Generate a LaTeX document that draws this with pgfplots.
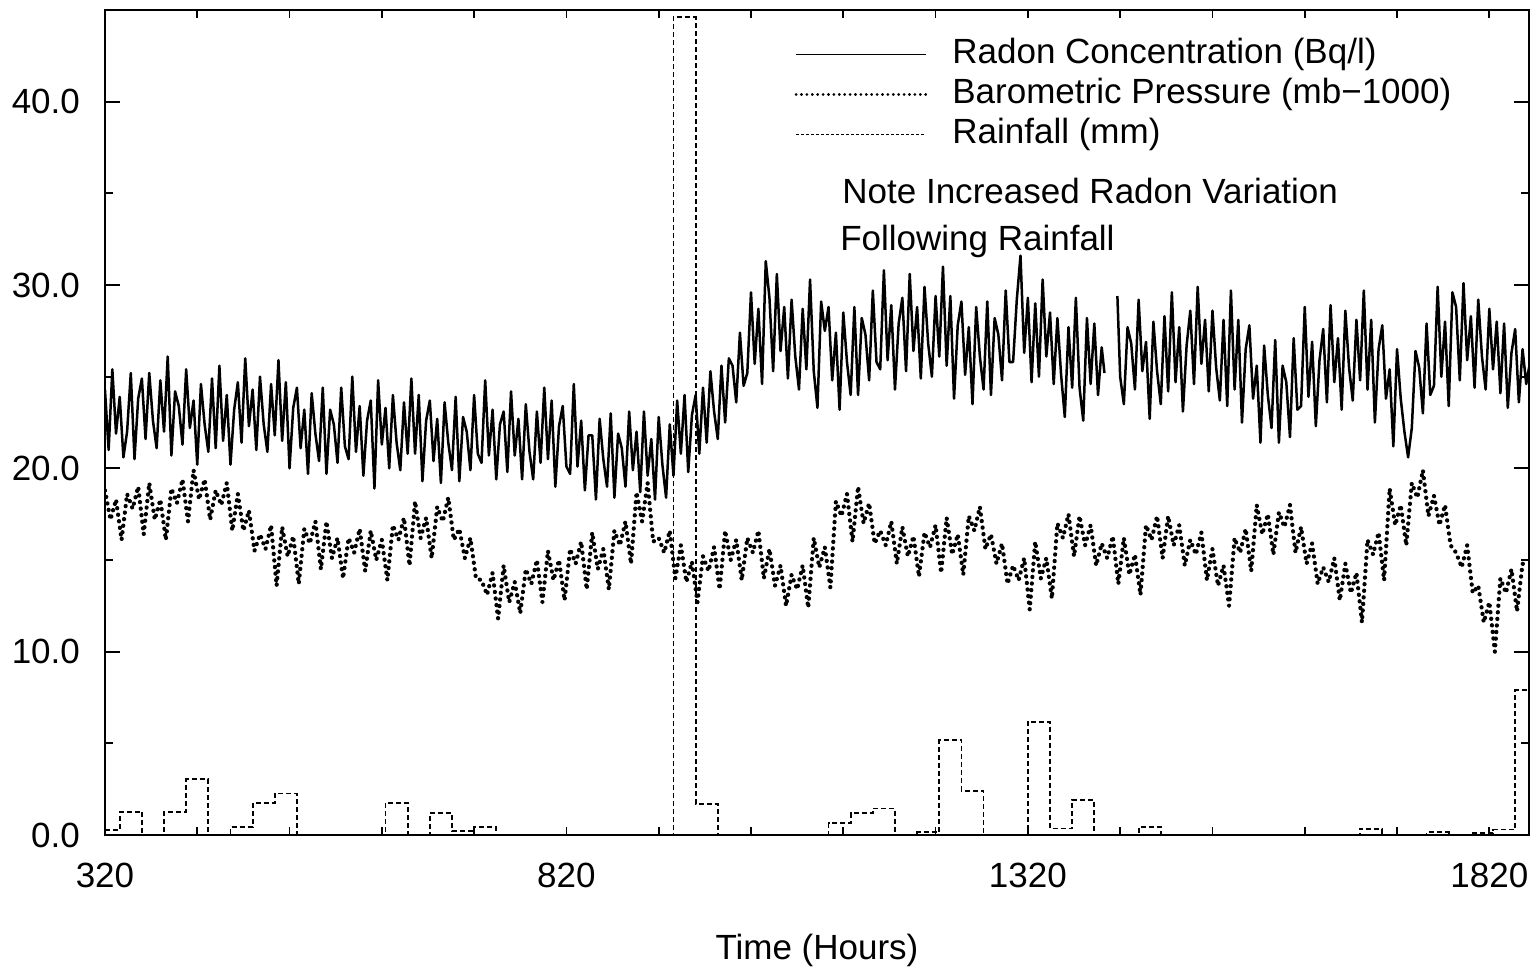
\documentclass[border=0pt]{standalone}
\usepackage{fontspec}
\setmainfont{Liberation Sans}
\usepackage{pgfplots}
\pgfplotsset{compat=1.18}
\begin{document}
\fontsize{17.5}{21}\selectfont
\begin{tikzpicture}
\begin{axis}[
  width=712pt, height=412.5pt, scale only axis,
  xmin=320, xmax=1863, ymin=0, ymax=45,
  font=\fontsize{17.5}{21}\selectfont,
  axis line style={line width=1pt},
  every tick/.style={black, line width=0.9pt},
  major tick length=7.5pt, minor tick length=4pt,
  xtick={320,820,1320,1820},
  minor xtick={320,420,...,1820},
  major x tick style={draw=none},
  ytick={0,10,20,30,40},
  minor ytick={5,15,25,35},
  yticklabel style={xshift=-6.5pt, /pgf/number format/fixed, /pgf/number format/fixed zerofill, /pgf/number format/precision=1, /pgf/number format/assume math mode=true},
  xticklabel style={yshift=-8pt, /pgf/number format/set thousands separator={}, /pgf/number format/assume math mode=true},
  xlabel={Time (Hours)},
  xlabel style={at={(axis description cs:0.5,-0.1394)}, anchor=center},
  legend style={at={(rel axis cs:0.4840,0.9707)}, anchor=north west, draw=none, fill=none,
    inner sep=0pt, row sep=0pt,
    nodes={text height=13pt, text depth=4pt, inner ysep=1.5pt, inner xsep=6pt}},
  legend cell align=left,
  legend image code/.code={\draw[#1] (0pt,0pt) -- (65pt,0pt); \path (71.5pt,0pt);},
  unbounded coords=jump,
]
\addlegendimage{black, line width=0.8pt}
\addlegendentry{Radon Concentration (Bq/l)}
\addlegendimage{black, line width=1.4pt, line cap=round, dash pattern=on 0.1pt off 2.6pt}
\addlegendentry{Barometric Pressure (mb−1000)}
\addlegendimage{black, line width=0.7pt, dash pattern=on 1.5pt off 1pt}
\addlegendentry{Rainfall (mm)}

% Radon concentration
\addplot[forget plot, black, line width=1.25pt, line join=round] coordinates {
(320,24.3)(324,21.0)(328,25.4)(332,21.9)(336,23.9)(340,20.6)
(344,22.0)(348,25.2)(352,20.5)(356,23.8)(360,24.9)(364,21.6)
(368,25.2)(372,22.6)(376,21.1)(380,24.8)(384,22.0)(388,26.1)
(392,20.7)(396,24.2)(400,23.4)(404,21.3)(408,25.4)(412,22.2)
(416,23.7)(420,20.2)(424,24.6)(428,22.4)(432,20.9)(436,24.9)
(440,21.1)(444,25.6)(448,21.5)(452,24.0)(456,20.2)(460,23.2)
(464,24.7)(468,21.4)(472,26.0)(476,22.3)(480,24.3)(484,21.0)
(488,25.0)(492,22.4)(496,20.9)(500,24.6)(504,21.8)(508,25.9)
(512,21.5)(516,24.7)(520,20.0)(524,23.3)(528,24.4)(532,21.1)
(536,23.2)(540,19.7)(544,24.1)(548,21.9)(552,20.4)(556,24.4)
(560,19.7)(564,23.2)(568,22.4)(572,20.3)(576,24.4)(580,21.2)
(584,20.5)(588,25.0)(592,20.9)(596,23.4)(600,19.6)(604,22.6)
(608,23.7)(612,18.9)(616,24.8)(620,21.3)(624,23.3)(628,20.0)
(632,24.0)(636,21.4)(640,19.9)(644,23.6)(648,20.8)(652,24.9)
(656,20.8)(660,24.0)(664,19.3)(668,22.6)(672,23.7)(676,20.4)
(680,22.7)(684,19.2)(688,23.6)(692,21.4)(696,19.9)(700,23.9)
(704,19.3)(708,22.8)(712,22.0)(716,19.9)(720,24.0)(724,20.8)
(728,20.3)(732,24.8)(736,20.7)(740,23.2)(744,19.4)(748,22.4)
(752,23.1)(756,19.8)(760,24.2)(764,20.7)(768,22.7)(772,19.4)
(776,23.5)(780,20.9)(784,19.4)(788,23.1)(792,20.3)(796,24.4)
(800,20.5)(804,23.7)(808,19.0)(812,22.3)(816,23.4)(820,20.1)
(824,19.7)(828,24.6)(832,20.1)(836,22.6)(840,18.8)(844,21.8)
(848,21.8)(852,18.3)(856,22.7)(860,20.5)(864,19.0)(868,23.0)
(872,18.4)(876,21.9)(880,21.1)(884,19.0)(888,23.1)(892,19.9)
(896,22.0)(900,18.7)(904,23.1)(908,19.6)(912,21.6)(916,18.3)
(920,22.8)(924,20.2)(928,18.4)(932,22.4)(936,19.6)(940,23.7)
(944,20.8)(948,24.0)(952,19.8)(956,22.9)(960,24.0)(964,20.8)
(968,24.4)(972,21.4)(976,25.3)(980,23.1)(984,21.6)(988,25.6)
(992,22.5)(996,26.0)(1000,25.6)(1004,23.6)(1008,27.4)(1012,24.5)
(1016,25.2)(1020,29.6)(1024,25.7)(1028,28.7)(1032,24.6)(1036,31.3)
(1040,29.3)(1044,25.3)(1048,30.6)(1052,26.4)(1056,28.8)(1060,24.9)
(1064,29.2)(1068,26.1)(1072,24.3)(1076,28.7)(1080,25.4)(1084,30.3)
(1088,25.3)(1092,23.3)(1096,29.1)(1100,27.5)(1104,28.8)(1108,24.8)
(1112,27.4)(1116,23.2)(1120,28.5)(1124,25.8)(1128,24.0)(1132,28.8)
(1136,24.0)(1140,28.2)(1144,27.3)(1148,24.8)(1152,29.7)(1156,25.8)
(1160,25.4)(1164,30.8)(1168,25.9)(1172,28.9)(1176,24.3)(1180,27.9)
(1184,29.3)(1188,25.3)(1192,30.6)(1196,26.4)(1200,28.8)(1204,24.9)
(1208,29.9)(1212,26.8)(1216,25.0)(1220,29.4)(1224,26.1)(1228,31.0)
(1232,25.6)(1236,29.4)(1240,23.8)(1244,27.8)(1248,29.1)(1252,25.1)
(1256,27.7)(1260,23.5)(1264,28.8)(1268,26.1)(1272,24.3)(1276,29.1)
(1280,24.0)(1284,28.2)(1288,27.3)(1292,24.8)(1296,29.7)(1300,25.8)
(1304,25.8)(1308,29.2)(1312,31.6)(1316,26.3)(1320,29.3)(1324,24.7)
(1328,29.0)(1332,25.0)(1336,30.3)(1340,26.1)(1344,28.5)(1348,24.6)
(1352,28.2)(1356,25.1)(1360,22.8)(1364,27.7)(1368,24.4)(1372,29.3)
(1376,24.4)(1380,22.6)(1384,28.2)(1388,24.6)(1392,27.9)(1396,24.0)(1400,26.6)(1403,25.2)
(1410,nan)
(1417,29.4)(1420,25.0)
(1424,23.5)(1428,27.7)(1432,26.8)(1436,24.3)(1440,29.2)(1444,25.3)
(1448,26.9)(1452,22.7)(1456,28.0)(1460,25.3)(1464,23.5)(1468,28.3)
(1472,24.2)(1476,29.6)(1480,24.7)(1484,27.7)(1488,23.1)(1492,26.7)
(1496,28.6)(1500,24.6)(1504,29.9)(1508,25.7)(1512,28.1)(1516,24.2)
(1520,28.6)(1524,25.5)(1528,23.7)(1532,28.1)(1536,23.4)(1540,29.7)
(1544,24.3)(1548,28.1)(1552,22.5)(1556,26.5)(1560,27.8)(1564,23.8)
(1568,25.6)(1572,21.4)(1576,26.7)(1580,24.0)(1584,22.2)(1588,27.0)
(1592,21.4)(1596,25.6)(1600,24.7)(1604,21.7)(1608,27.1)(1612,23.2)
(1616,23.4)(1620,28.8)(1624,23.9)(1628,26.9)(1632,22.3)(1636,25.9)
(1640,27.6)(1644,23.6)(1648,28.9)(1652,24.7)(1656,27.1)(1660,23.2)
(1664,28.6)(1668,25.5)(1672,23.7)(1676,28.1)(1680,24.8)(1684,29.7)
(1688,24.3)(1692,28.1)(1696,22.5)(1700,26.5)(1704,27.8)(1708,23.8)
(1712,25.4)(1716,21.2)(1720,26.5)(1724,23.8)(1728,22.0)(1732,20.6)
(1736,22.2)(1740,26.4)(1744,25.5)(1748,23.0)(1752,27.9)(1756,24.0)
(1760,24.5)(1764,29.9)(1768,25.0)(1772,28.0)(1776,23.4)(1780,29.6)
(1784,28.8)(1788,24.8)(1792,30.1)(1796,25.9)(1800,28.3)(1804,24.4)
(1808,29.2)(1812,26.1)(1816,24.3)(1820,28.7)(1824,25.4)(1828,28.0)
(1832,24.1)(1836,27.9)(1840,23.3)(1844,26.3)(1848,27.6)(1852,23.6)
(1856,26.5)(1860,24.6)(1863,25.5)
};

% Barometric pressure (mb - 1000)
\addplot[forget plot, black, line width=2.1pt, line cap=round, line join=round, dash pattern=on 0.1pt off 3.2pt] coordinates {
(320,18.8)(326,17.2)(332,18.3)(338,16.1)
(344,18.6)(350,17.8)(356,19.0)(362,16.4)
(368,19.2)(374,17.2)(380,18.3)(386,16.1)
(392,18.9)(398,18.1)(404,19.4)(410,17.1)
(416,19.9)(422,18.3)(428,19.4)(434,17.2)
(440,18.8)(446,18.0)(452,19.2)(458,16.6)
(464,18.6)(470,16.6)(476,17.7)(482,15.5)
(488,16.4)(494,15.6)(500,16.9)(506,13.6)
(512,16.8)(518,15.2)(524,16.3)(530,13.7)
(536,16.7)(542,15.9)(548,17.1)(554,14.5)
(560,17.1)(566,15.1)(572,16.2)(578,14.0)
(584,16.2)(590,15.4)(596,16.7)(602,14.4)
(608,16.6)(614,15.0)(620,16.1)(626,13.9)
(632,16.9)(638,16.1)(644,17.3)(650,14.7)
(656,18.2)(662,16.2)(668,17.3)(674,15.1)
(680,17.9)(686,17.1)(692,18.4)(698,16.1)
(704,16.7)(710,15.1)(716,16.2)(722,14.0)
(728,13.9)(734,13.1)(740,14.3)(746,11.8)
(752,14.7)(758,12.7)(764,13.8)(770,12.1)
(776,14.5)(782,13.7)(788,15.0)(794,12.7)
(800,15.5)(806,13.9)(812,15.0)(818,12.8)
(824,15.6)(830,14.8)(836,16.0)(842,13.4)
(848,16.5)(854,14.5)(860,15.6)(866,13.4)
(872,16.6)(878,15.8)(884,17.1)(890,14.8)
(896,18.7)(902,17.1)(908,19.2)(914,16.0)
(920,16.2)(926,15.4)(932,16.6)(938,14.0)
(944,15.8)(950,13.8)(956,14.9)(962,12.7)
(968,15.2)(974,14.4)(980,15.7)(986,13.4)
(992,16.6)(998,15.0)(1004,16.1)(1010,13.9)
(1016,16.2)(1022,15.4)(1028,16.6)(1034,14.0)
(1040,15.6)(1046,13.6)(1052,14.7)(1058,12.5)
(1064,14.2)(1070,13.4)(1076,14.7)(1082,12.4)
(1088,16.2)(1094,14.6)(1100,15.7)(1106,13.5)
(1112,18.2)(1118,17.4)(1124,18.6)(1130,16.0)
(1136,19.0)(1142,17.0)(1148,18.1)(1154,15.9)
(1160,16.6)(1166,15.8)(1172,17.1)(1178,14.8)
(1184,16.8)(1190,15.2)(1196,16.3)(1202,14.1)
(1208,16.5)(1214,15.7)(1220,16.9)(1226,14.3)
(1232,17.3)(1238,15.3)(1244,16.4)(1250,14.2)
(1256,17.4)(1262,16.6)(1268,17.9)(1274,15.6)
(1280,16.4)(1286,14.8)(1292,15.9)(1298,13.7)
(1304,14.7)(1310,13.9)(1316,15.1)(1322,12.3)
(1328,16.0)(1334,14.0)(1340,15.1)(1346,12.9)
(1352,17.0)(1358,16.2)(1364,17.5)(1370,15.2)
(1376,17.4)(1382,15.8)(1388,16.9)(1394,14.7)
(1400,15.9)(1406,15.1)(1412,16.3)(1418,13.7)
(1424,16.2)(1430,14.2)(1436,15.3)(1442,13.1)
(1448,16.9)(1454,16.1)(1460,17.4)(1466,15.1)
(1472,17.4)(1478,15.8)(1484,16.9)(1490,14.7)
(1496,16.1)(1502,15.3)(1508,16.5)(1514,13.9)
(1520,15.6)(1526,13.6)(1532,14.7)(1538,12.5)
(1544,16.2)(1550,15.4)(1556,16.7)(1562,14.4)
(1568,18.0)(1574,16.4)(1580,17.5)(1586,15.3)
(1592,17.6)(1598,16.8)(1604,18.0)(1610,15.4)
(1616,16.8)(1622,14.8)(1628,15.9)(1634,13.7)
(1640,14.6)(1646,13.8)(1652,15.1)(1658,12.8)
(1664,14.8)(1670,13.2)(1676,14.3)(1682,11.6)
(1688,16.1)(1694,15.3)(1700,16.5)(1706,13.9)
(1712,18.9)(1718,16.9)(1724,18.0)(1730,15.8)
(1736,19.2)(1742,18.4)(1748,19.9)(1754,17.4)
(1760,18.5)(1766,16.9)(1772,18.0)(1778,15.8)
(1784,15.4)(1790,14.6)(1796,15.8)(1802,13.2)
(1808,13.6)(1814,11.6)(1820,12.7)(1826,10.0)
(1832,14.0)(1838,13.2)(1844,14.5)(1850,12.2)
(1856,14.8)(1862,14.6)
};

% Rainfall (mm), daily totals
\addplot[forget plot, black, line width=0.9pt, dash pattern=on 2.5pt off 1.5pt, const plot] coordinates {
(320,0.27)(336,1.27)(360,0)(384,1.27)(408,3.04)(432,0)(456,0.45)(480,1.76)(504,2.27)(528,0)
(624,1.76)(648,0)(672,1.2)(696,0.2)(720,0.45)(744,0)(936,44.6)(960,1.69)(984,0)
(1104,0.64)(1128,1.18)(1152,1.45)(1176,0)(1200,0.15)(1224,5.18)(1248,2.40)(1272,0)
(1320,6.18)(1344,0.36)(1368,1.91)(1392,0)(1440,0.45)(1464,0)(1680,0.35)(1704,0)
(1752,0.15)(1776,0)(1800,0.12)(1824,0.3)(1848,7.9)(1863,7.9)
};

\node[anchor=base west, inner sep=0pt] at (rel axis cs:0.5176,0.766) {Note Increased Radon Variation};
\node[anchor=base west, inner sep=0pt] at (rel axis cs:0.5161,0.709) {Following Rainfall};

\coordinate (bl) at (rel axis cs:-0.0737,-0.1648);
\coordinate (tr) at (rel axis cs:1.00632,1.01212);
\end{axis}
\pgfresetboundingbox
\path[use as bounding box] (bl) rectangle (tr);
\end{tikzpicture}
\end{document}
